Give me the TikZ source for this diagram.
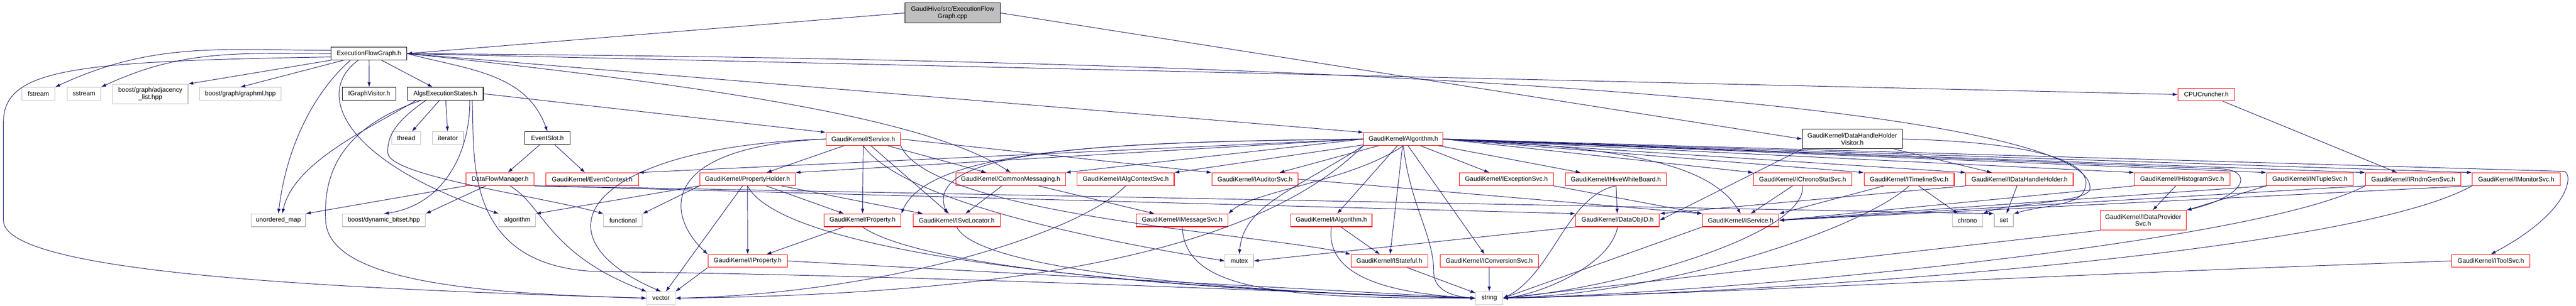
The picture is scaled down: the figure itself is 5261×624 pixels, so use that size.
\documentclass[tikz,border=0pt]{standalone}
\usepackage{fontspec}
\setmainfont{Liberation Sans}
\usetikzlibrary{arrows.meta}
\definecolor{edgeblue}{RGB}{25,25,112}
\definecolor{extgray}{RGB}{191,191,191}
\definecolor{cutred}{RGB}{255,0,0}
\tikzset{
  inc/.style={draw=edgeblue, line width=1pt, -{Latex[length=10pt,width=7pt]}},
  file/.style={draw=black, line width=1.2pt, fill=white, inner sep=0pt, minimum height=26pt, align=center, font=\fontsize{13}{14.5}\selectfont},
  ext/.style={file, draw=extgray},
  cut/.style={file, draw=cutred},
  rootfile/.style={file, fill=extgray},
}
\begin{document}
\begin{tikzpicture}[x=1pt, y=1pt]
    \useasboundingbox (0,0) rectangle (5261,-624);

    \node[rootfile, minimum width=195pt, minimum height=41pt] (root) at (1945.5,-26.5) {GaudiHive/src/ExecutionFlow\\Graph.cpp};
    \node[file, minimum width=155pt] (efgh) at (753.5,-109.5) {ExecutionFlowGraph.h};

    \node[ext, minimum width=67pt] (fstream) at (78.5,-191.5) {fstream};
    \node[ext, minimum width=69pt] (sstream) at (171.5,-191.5) {sstream};
    \node[ext, minimum width=154pt, minimum height=40pt] (adjlist) at (307,-192) {boost/graph/adjacency\\\_list.hpp};
    \node[ext, minimum width=166pt] (graphml) at (491,-191.5) {boost/graph/graphml.hpp};
    \node[file, minimum width=110pt] (igv) at (754,-191.5) {IGraphVisitor.h};
    \node[file, minimum width=155pt] (aes) at (909.5,-191.5) {AlgsExecutionStates.h};
    \node[cut, minimum width=116pt] (cpu) at (4506,-193) {CPUCruncher.h};

    \node[ext, minimum width=59pt] (thread) at (829.5,-282) {thread};
    \node[ext, minimum width=64pt] (iterator) at (915,-282) {iterator};
    \node[file, minimum width=92pt] (eslot) at (1118,-282) {EventSlot.h};
    \node[cut, minimum width=152pt] (service) at (1763,-284) {GaudiKernel/Service.h};
    \node[cut, minimum width=162pt] (algo) at (2866,-284) {GaudiKernel/Algorithm.h};
    \node[file, minimum width=204pt, minimum height=40pt] (dhhv) at (3783,-284) {GaudiKernel/DataHandleHolder\\Visitor.h};

    \node[cut, minimum width=139pt] (dfm) at (1021.5,-366) {DataFlowManager.h};
    \node[cut, minimum width=189pt] (evctx) at (1209.5,-366) {GaudiKernel/EventContext.h};
    \node[cut, minimum width=195pt] (propholder) at (1526.5,-366) {GaudiKernel/PropertyHolder.h};
    \node[cut, minimum width=224pt] (commsg) at (2064,-366) {GaudiKernel/CommonMessaging.h};
    \node[cut, minimum width=198pt] (ialgctx) at (2299,-366) {GaudiKernel/IAlgContextSvc.h};
    \node[cut, minimum width=176pt] (iaud) at (2563,-366) {GaudiKernel/IAuditorSvc.h};
    \node[cut, minimum width=193pt] (iexc) at (3076.5,-366) {GaudiKernel/IExceptionSvc.h};
    \node[cut, minimum width=206pt] (ihwb) at (3300,-366) {GaudiKernel/IHiveWhiteBoard.h};
    \node[cut, minimum width=201pt] (ichrono) at (3681.5,-366) {GaudiKernel/IChronoStatSvc.h};
    \node[cut, minimum width=184pt] (itimeline) at (3899,-366) {GaudiKernel/ITimelineSvc.h};
    \node[cut, minimum width=219pt] (idhh) at (4124.5,-366) {GaudiKernel/IDataHandleHolder.h};
    \node[cut, minimum width=195pt] (ihist) at (4456.5,-366) {GaudiKernel/IHistogramSvc.h};
    \node[cut, minimum width=177pt] (intuple) at (4717.5,-366) {GaudiKernel/INTupleSvc.h};
    \node[cut, minimum width=195pt] (irndm) at (4928.5,-366) {GaudiKernel/IRndmGenSvc.h};
    \node[cut, minimum width=180pt] (imon) at (5139,-366) {GaudiKernel/IMonitorSvc.h};

    \node[ext, minimum width=111pt] (umap) at (568.5,-450) {unordered\_map};
    \node[ext, minimum width=170pt] (dynbit) at (784,-450) {boost/dynamic\_bitset.hpp};
    \node[ext, minimum width=75pt] (algorithm) at (1056.5,-450) {algorithm};
    \node[ext, minimum width=79pt] (functional) at (1272.5,-450) {functional};
    \node[cut, minimum width=157pt] (prop) at (1761.5,-450) {GaudiKernel/Property.h};
    \node[cut, minimum width=178pt] (isvcloc) at (1954,-450) {GaudiKernel/ISvcLocator.h};
    \node[cut, minimum width=187pt] (imsg) at (2414.5,-450) {GaudiKernel/IMessageSvc.h};
    \node[cut, minimum width=166pt] (ialg) at (2719,-450) {GaudiKernel/IAlgorithm.h};
    \node[cut, minimum width=171pt] (dataobjid) at (3303.5,-450) {GaudiKernel/DataObjID.h};
    \node[cut, minimum width=156pt] (iservice) at (3555,-450) {GaudiKernel/IService.h};
    \node[ext, minimum width=62pt] (chrono) at (4018,-450) {chrono};
    \node[ext, minimum width=39pt] (set) at (4092.5,-450) {set};
    \node[cut, minimum width=176pt, minimum height=40pt] (idps) at (4377,-450) {GaudiKernel/IDataProvider\\Svc.h};

    \node[cut, minimum width=162pt] (iprop) at (1527,-533) {GaudiKernel/IProperty.h};
    \node[ext, minimum width=58pt] (mutex) at (2531,-533) {mutex};
    \node[cut, minimum width=157pt] (istateful) at (2837.5,-533) {GaudiKernel/IStateful.h};
    \node[cut, minimum width=201pt] (iconv) at (3041.5,-533) {GaudiKernel/IConversionSvc.h};
    \node[cut, minimum width=160pt] (itool) at (5087,-533) {GaudiKernel/IToolSvc.h};

    \node[ext, minimum width=58pt] (vector) at (1350,-609) {vector};
    \node[ext, minimum width=55pt] (string) at (3041.5,-609) {string};

    % root file
    \draw[inc] (root.west) -- (efgh.east);
    \draw[inc] (root.east) -- (dhhv.west);

    % ExecutionFlowGraph.h
    \draw[inc] (efgh.175) to[out=180,in=25] (fstream.north east);
    \draw[inc] (efgh.west) to[out=180,in=25] (sstream.north east);
    \draw[inc] (efgh.south west) -- (adjlist.north east);
    \draw[inc] (efgh) -- (graphml.north);
    \draw[inc] (efgh) -- (igv);
    \draw[inc] (efgh) -- (aes);
    \draw[inc] (efgh.east) to[out=-15,in=110] (eslot.north);
    \draw[inc] ([xshift=-38pt]efgh.south) .. controls (640,-190) and (585,-300) .. (umap.north);
    \draw[inc] ([xshift=-22pt]efgh.south) .. controls (640,-190) and (700,-330) .. (algorithm.north west);
    \draw[inc] (efgh.185) .. controls (150,-125) and (7,-140) .. (7,-250) -- (7,-450) .. controls (7,-560) and (700,-590) .. (vector.west);
    \draw[inc] (efgh.east) -- (algo.north west);
    \draw[inc] (efgh.east) .. controls (1600,-190) and (1920,-260) .. (commsg.north);
    \draw[inc] (efgh.east) -- (cpu.west);
    \draw[inc] (efgh.east) .. controls (3300,-125) and (4290,-250) .. (4268,-388) .. controls (4255,-415) and (4100,-415) .. (chrono.north east);

    % AlgsExecutionStates.h
    \draw[inc] (aes) -- (thread);
    \draw[inc] (aes) -- (iterator);
    \draw[inc] ([xshift=-60pt]aes.south) .. controls (760,-260) and (600,-330) .. ([xshift=8pt]umap.north);
    \draw[inc] ([xshift=50pt]aes.south) .. controls (960,-320) and (900,-420) .. (dynbit.north);
    \draw[inc] ([xshift=-50pt]aes.south) .. controls (700,-260) and (660,-350) .. (665,-450) .. controls (670,-580) and (1000,-600) .. (vector.west);
    \draw[inc] ([xshift=-40pt]aes.south) .. controls (820,-240) and (790,-270) .. (792,-312) .. controls (794,-360) and (1100,-400) .. (functional.north west);
    \draw[inc] ([xshift=55pt]aes.south) .. controls (970,-320) and (940,-560) .. (1250,-555) .. controls (2000,-565) and (2700,-600) .. (string.west);
    \draw[inc] (aes.east) -- (service.north west);

    % EventSlot.h, DataFlowManager.h
    \draw[inc] (eslot) -- (dfm);
    \draw[inc] (eslot) -- (evctx);
    \draw[inc] (dfm.south west) -- (umap.north east);
    \draw[inc] (dfm) -- (dynbit.north east);
    \draw[inc] ([xshift=20pt]dfm.south) .. controls (1110,-420) and (1120,-520) .. (vector.north west);
    \draw[inc] (dfm.south east) -- (dataobjid.north west);
    \draw[inc] (dfm.south east) -- (set.north west);

    % GaudiKernel/Service.h
    \draw[inc] (service) -- (propholder);
    \draw[inc] (service) -- (commsg);
    \draw[inc] (service) -- (prop);
    \draw[inc] (service) -- (isvcloc);
    \draw[inc] (service.west) .. controls (1340,-300) and (1360,-440) .. (iprop.north west);
    \draw[inc] (service.east) -- (iaud.north west);
    \draw[inc] (service.south east) .. controls (1900,-440) and (2600,-480) .. (istateful.north west);
    \draw[inc] (service.south) .. controls (1850,-420) and (2300,-500) .. (mutex.west);
    \draw[inc] (service.west) .. controls (1200,-300) and (1080,-480) .. (vector.north);

    % GaudiKernel/PropertyHolder.h, CommonMessaging.h
    \draw[inc] (propholder) -- (iprop);
    \draw[inc] (propholder) -- (prop);
    \draw[inc] (propholder) -- (isvcloc);
    \draw[inc] (propholder.south west) -- (algorithm.north east);
    \draw[inc] (propholder.south west) -- (functional.north east);
    \draw[inc] (propholder) -- (vector);
    \draw[inc] (propholder.south) .. controls (1600,-520) and (2300,-590) .. (string.west);
    \draw[inc] (commsg) -- (isvcloc);
    \draw[inc] (commsg) -- (imsg);

    % GaudiKernel/Algorithm.h
    \draw[inc] (algo.west) -- (evctx.north east);
    \draw[inc] (algo.west) -- (propholder.north east);
    \draw[inc] (algo.west) -- (commsg.north east);
    \draw[inc] (algo) -- (ialgctx.north east);
    \draw[inc] (algo) -- (iaud);
    \draw[inc] (algo) -- (iexc);
    \draw[inc] (algo) -- (ihwb);
    \draw[inc] (algo.east) -- (ichrono.north west);
    \draw[inc] (algo.east) -- (itimeline.north west);
    \draw[inc] (algo.east) -- (idhh.north west);
    \draw[inc] (algo.east) -- (ihist.north west);
    \draw[inc] (algo.east) -- (intuple.north west);
    \draw[inc] (algo.east) -- (irndm.north west);
    \draw[inc] (algo.east) -- (imon.north west);
    \draw[inc] (algo.west) .. controls (2300,-290) and (1900,-300) .. (prop.north east);
    \draw[inc] (algo.west) .. controls (2300,-290) and (1880,-300) .. ([xshift=70pt]isvcloc.north west);
    \draw[inc] (algo.south) .. controls (2760,-370) and (2560,-390) .. (imsg.north east);
    \draw[inc] (algo) -- (ialg);
    \draw[inc] (algo) -- (istateful);
    \draw[inc] (algo) -- (iconv);
    \draw[inc] (algo.south west) .. controls (2640,-390) and (2540,-420) .. (mutex.north);
    \draw[inc] (algo.south) .. controls (2880,-420) and (2928,-480) .. (2928,-555) .. controls (2928,-590) and (2960,-605) .. (string.west);
    \draw[inc] (algo.south west) .. controls (2600,-480) and (2200,-600) .. (vector.east);
    \draw[inc] (algo.east) .. controls (3300,-300) and (3490,-330) .. (iservice.north);
    \draw[inc] (algo.east) -- (4540,-345) .. controls (4600,-350) and (4590,-400) .. (idps.north east);
    \draw[inc] (algo.east) -- (5236,-350) .. controls (5255,-352) and (5255,-430) .. (itool.north);

    % service interfaces
    \draw[inc] (ialgctx.south) .. controls (2200,-480) and (1800,-600) .. (vector.east);
    \draw[inc] (iaud.east) -- (iservice.north west);
    \draw[inc] (iexc.south east) -- (iservice.north west);
    \draw[inc] (ihwb) -- (dataobjid);
    \draw[inc] (ihwb.south) .. controls (3200,-400) and (3170,-560) .. (string.east);
    \draw[inc] (ichrono) -- (iservice);
    \draw[inc] (ichrono.south) .. controls (3690,-480) and (3300,-590) .. (string.east);
    \draw[inc] (itimeline) -- (iservice.north east);
    \draw[inc] (itimeline) -- (chrono);
    \draw[inc] (itimeline.south) .. controls (3800,-470) and (3400,-600) .. (string.east);
    \draw[inc] (idhh) -- (set);
    \draw[inc] (idhh.south west) -- (dataobjid.north east);
    \draw[inc] (ihist) -- (idps);
    \draw[inc] (ihist.south west) -- (iservice.east);
    \draw[inc] (intuple.south west) -- (idps.north east);
    \draw[inc] (intuple.south west) -- (iservice.east);
    \draw[inc] (irndm.south west) -- (iservice.east);
    \draw[inc] (irndm.south west) .. controls (4600,-500) and (3500,-600) .. (string.east);
    \draw[inc] (imon.south west) -- (iservice.east);
    \draw[inc] (imon.south west) .. controls (4800,-520) and (3600,-600) .. (string.east);
    \draw[inc] (itool.west) .. controls (4200,-560) and (3500,-600) .. (string.east);
    \draw[inc] (idps.south west) -- (string.east);
    \draw[inc] (cpu) -- (irndm);

    % DataHandleHolderVisitor.h
    \draw[inc] (dhhv) -- (idhh);
    \draw[inc] (dhhv.south west) -- (dataobjid.east);
    \draw[inc] (dhhv.east) .. controls (4150,-290) and (4290,-330) .. (4255,-392) .. controls (4240,-420) and (4170,-420) .. (set.north east);

    % lower levels
    \draw[inc] (prop) -- (iprop);
    \draw[inc] (prop.south) .. controls (1900,-560) and (2600,-600) .. (string.west);
    \draw[inc] (isvcloc.south) .. controls (2000,-560) and (2600,-600) .. (string.west);
    \draw[inc] (imsg.south) .. controls (2420,-590) and (2600,-610) .. (string.west);
    \draw[inc] (ialg) -- (istateful);
    \draw[inc] (ialg.south) .. controls (2705,-570) and (2850,-600) .. (string.west);
    \draw[inc] (dataobjid.south west) -- (mutex.east);
    \draw[inc] (dataobjid.south) .. controls (3290,-540) and (3150,-600) .. (string.east);
    \draw[inc] (iservice.south west) -- (string.east);
    \draw[inc] (iprop.east) -- (string.west);
    \draw[inc] (iprop.south west) -- (vector.north east);
    \draw[inc] (istateful) -- (string);
    \draw[inc] (iconv) -- (string);

\end{tikzpicture}
\end{document}
